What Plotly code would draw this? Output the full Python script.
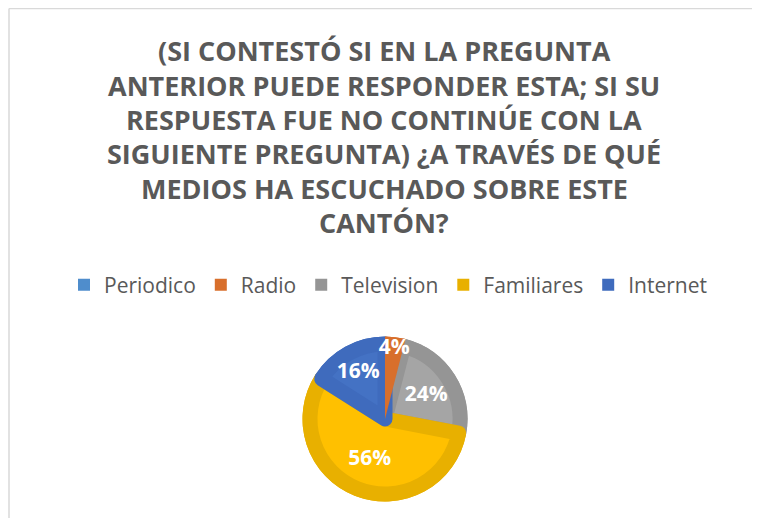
import plotly.graph_objects as go

categories = ["Periodico", "Radio", "Television", "Familiares", "Internet"]
values = [0, 4, 24, 56, 16]
fill_colors = ["#5B9BD5", "#ED7D31", "#A5A5A5", "#FFC000", "#4472C4"]
edge_colors = ["#4F8DCC", "#D86F2C", "#959595", "#E8B000", "#3F6BBD"]
title_lines = [
    "(SI CONTESTÓ SI EN LA PREGUNTA",
    "ANTERIOR PUEDE RESPONDER ESTA; SI SU",
    "RESPUESTA FUE NO CONTINÚE CON LA",
    "SIGUIENTE PREGUNTA) ¿A TRAVÉS DE QUÉ",
    "MEDIOS HA ESCUCHADO SOBRE ESTE",
    "CANTÓN?",
]

# figure is placed by the page at an 8px body margin
W, H = 752, 510
texts = [f"{v}%" if v else "" for v in values]
n = len(values)
clear = "rgba(0,0,0,0)"

cx, cy, R, d = 377, 411, 82.5, 7.5


def dom(rad):
    return dict(x=[(cx - rad) / W, (cx + rad) / W], y=[(H - cy - rad) / H, (H - cy + rad) / H])


common = dict(labels=categories, values=values, sort=False, direction="clockwise", rotation=0)

# base: full-size wedges in the edge colour
base = go.Pie(**common, textinfo="none", domain=dom(R),
              marker=dict(colors=edge_colors, line=dict(width=0)),
              hoverinfo="label+percent")

# inner lighter wedges with thick edge-coloured stroke (Radio too thin for an inner fill)
inner_fill = [c if i != 1 else clear for i, c in enumerate(fill_colors)]
inner_w = [0 if (v == 0 or i == 1) else 2 * d for i, v in enumerate(values)]
inner = go.Pie(**common, textinfo="none", domain=dom(R - d), showlegend=False, hoverinfo="skip",
               marker=dict(colors=inner_fill, line=dict(color=edge_colors, width=inner_w)))

# Radio wedge redrawn on top so neighbouring strokes don't cover it
radio_cols = [c if i == 1 else clear for i, c in enumerate(edge_colors)]
radio = go.Pie(**common, textinfo="none", domain=dom(R), showlegend=False, hoverinfo="skip",
               marker=dict(colors=radio_cols, line=dict(width=0)))

labels_layer = go.Pie(
    **common,
    text=texts,
    textinfo="text",
    textposition="inside",
    insidetextorientation="horizontal",
    textfont=dict(family="Open Sans", size=21, color="white", weight="bold"),
    marker=dict(colors=[clear] * n, line=dict(width=0)),
    domain=dom(R),
    showlegend=False,
    hoverinfo="skip",
)
fig = go.Figure([base, inner, radio, labels_layer])

title_y = [42, 77, 111, 145, 180, 214]
annotations = []
for line, yy in zip(title_lines, title_y):
    annotations.append(dict(
        text=line, x=376 / W, y=1 - yy / H, xref="paper", yref="paper",
        xanchor="center", yanchor="middle", showarrow=False,
        font=dict(family="Open Sans", size=27, color="#595959", weight="bold"),
    ))

fig.update_layout(
    width=W, height=H,
    margin=dict(l=0, r=0, t=0, b=0),
    paper_bgcolor="white",
    plot_bgcolor="white",
    showlegend=True,
    legend=dict(
        orientation="h", x=380 / W, xanchor="center", y=1 - 277 / H, yanchor="middle",
        font=dict(family="Open Sans", size=21, color="#595959"),
        itemclick=False, itemwidth=30, tracegroupgap=0,
    ),
    uniformtext=dict(minsize=21, mode="show"),
    annotations=annotations,
    shapes=[
        dict(type="line", xref="paper", yref="paper", x0=1 / W, x1=1, y0=1 - 0.5 / H, y1=1 - 0.5 / H,
             line=dict(color="#D9D9D9", width=1.5)),
        dict(type="line", xref="paper", yref="paper", x0=1 / W, x1=1 / W, y0=0, y1=1 - 0.5 / H,
             line=dict(color="#D9D9D9", width=1.5)),
    ],
)

fig.write_html("out.html")
